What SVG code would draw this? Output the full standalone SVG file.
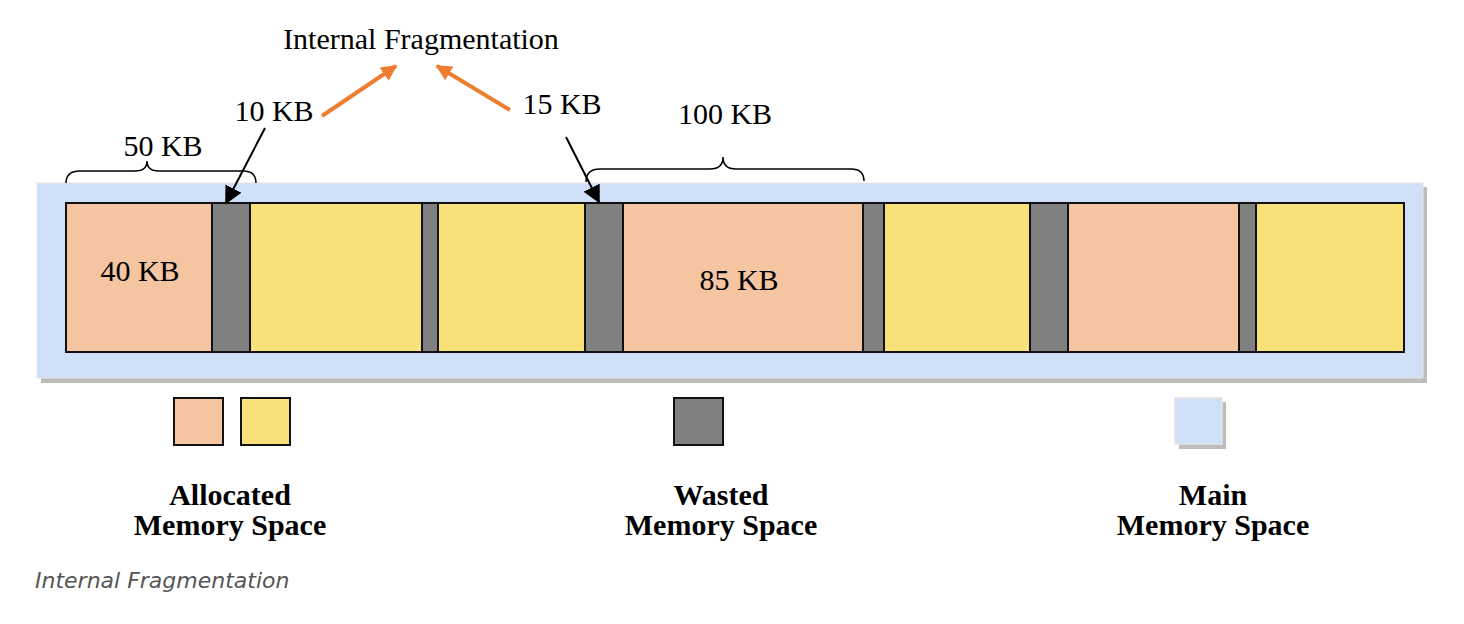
<svg xmlns="http://www.w3.org/2000/svg" width="1464" height="624" viewBox="0 0 1464 624">
<style>
.t{font-family:"Liberation Serif",serif;font-size:30px;fill:#000}
.b{font-family:"Liberation Serif",serif;font-size:30px;font-weight:bold;fill:#000;text-anchor:middle}
.a{fill:#F5C4A0;stroke:#111;stroke-width:2}
.y{fill:#F9E17A;stroke:#111;stroke-width:2}
.w{fill:#808080;stroke:#111;stroke-width:2}
.br{fill:none;stroke:#000;stroke-width:1.5}
</style>
<defs>
<marker id="ho" viewBox="0 0 10 10" refX="9" refY="5" markerWidth="16" markerHeight="16" orient="auto" markerUnits="userSpaceOnUse"><path d="M0,0L10,5L0,10z" fill="#ED7D31"/></marker>
<marker id="hb" viewBox="0 0 10 10" refX="9" refY="5" markerWidth="18" markerHeight="18" orient="auto" markerUnits="userSpaceOnUse"><path d="M0,0L10,5L0,10z" fill="#000"/></marker>
</defs>
<rect width="1464" height="624" fill="#fff"/>
<g id="main-memory">
<rect x="41" y="187" width="1386" height="196" fill="#bdbdbd"/>
<rect x="37" y="183" width="1386" height="195" fill="#D0DFF8" stroke="#e4e4e4" stroke-width="1"/>
</g>
<g id="blocks">
<rect id="b1" class="a" x="66" y="203" width="146" height="149"/>
<rect id="b2" class="w" x="212" y="203" width="38" height="149"/>
<rect id="b3" class="y" x="250" y="203" width="172" height="149"/>
<rect id="b4" class="w" x="422" y="203" width="16" height="149"/>
<rect id="b5" class="y" x="438" y="203" width="147" height="149"/>
<rect id="b6" class="w" x="585" y="203" width="38" height="149"/>
<rect id="b7" class="a" x="623" y="203" width="240" height="149"/>
<rect id="b8" class="w" x="863" y="203" width="21" height="149"/>
<rect id="b9" class="y" x="884" y="203" width="146" height="149"/>
<rect id="b10" class="w" x="1030" y="203" width="38" height="149"/>
<rect id="b11" class="a" x="1068" y="203" width="171" height="149"/>
<rect id="b12" class="w" x="1239" y="203" width="17" height="149"/>
<rect id="b13" class="y" x="1256" y="203" width="148" height="149"/>
<text class="t" x="140" y="281" text-anchor="middle">40 KB</text>
<text class="t" x="739" y="290" text-anchor="middle">85 KB</text>
</g>
<g id="labels">
<text class="t" x="421" y="49" text-anchor="middle">Internal Fragmentation</text>
<text class="t" x="274" y="121" text-anchor="middle">10 KB</text>
<text class="t" x="562" y="114" text-anchor="middle">15 KB</text>
<text class="t" x="163" y="156" text-anchor="middle">50 KB</text>
<text class="t" x="725" y="124" text-anchor="middle">100 KB</text>
</g>
<g id="connectors">
<path class="br" d="M66,183 Q66,171 80,171 L135,171 Q147,171 147,161 Q147,171 159,171 L243,171 Q256,171 256,183"/>
<path class="br" d="M586,182 Q586,169 600,169 L710,169 Q723,169 723,157 Q723,169 736,169 L851,169 Q864,169 864,181"/>
<line x1="322" y1="116" x2="396" y2="66" stroke="#ED7D31" stroke-width="4" marker-end="url(#ho)"/>
<line x1="510" y1="110" x2="437" y2="66" stroke="#ED7D31" stroke-width="4" marker-end="url(#ho)"/>
<line x1="265" y1="128" x2="226" y2="203" stroke="#000" stroke-width="2" marker-end="url(#hb)"/>
<line x1="566" y1="137" x2="599" y2="202" stroke="#000" stroke-width="2" marker-end="url(#hb)"/>
</g>
<g id="legend-allocated">
<rect class="a" x="174" y="398" width="49" height="47"/>
<rect class="y" x="241" y="398" width="49" height="47"/>
<text class="b" x="230" y="505">Allocated</text>
<text class="b" x="230" y="535">Memory Space</text>
</g>
<g id="legend-wasted">
<rect class="w" x="674" y="398" width="49" height="47"/>
<text class="b" x="721" y="505">Wasted</text>
<text class="b" x="721" y="535">Memory Space</text>
</g>
<g id="legend-main">
<rect x="1179" y="402" width="47" height="47" fill="#bdbdbd"/>
<rect x="1175" y="398" width="47" height="46" fill="#D0DFF8" stroke="#e4e4e4" stroke-width="1.5"/>
<text class="b" x="1213" y="505">Main</text>
<text class="b" x="1213" y="535">Memory Space</text>
</g>
<text x="35" y="588" font-family="'DejaVu Sans',sans-serif" font-style="italic" font-size="22" fill="#555">Internal Fragmentation</text>
</svg>
